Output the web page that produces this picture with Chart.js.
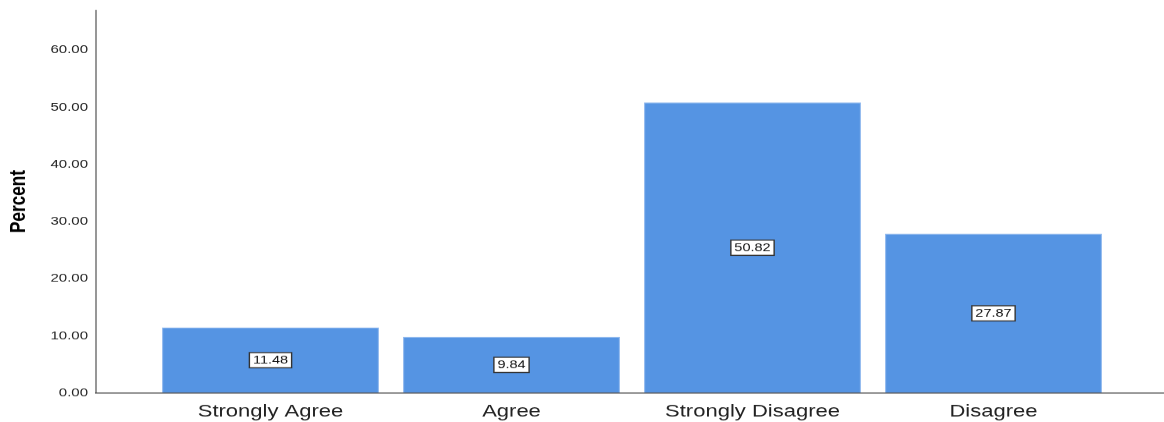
<!DOCTYPE html>
<html>
<head>
<meta charset="utf-8">
<script src="https://cdn.jsdelivr.net/npm/chart.js@4/dist/chart.umd.min.js"></script>
<style>
  html, body { margin: 0; padding: 0; background: #ffffff; }
  #wrap { width: 1164px; height: 422px; overflow: hidden; }
</style>
</head>
<body>
<div id="wrap"><canvas id="c" width="1164" height="541" style="display:block;width:1164px;height:422px"></canvas></div>
<script>
// ---- data ----
const categories = ['Strongly Agree', 'Agree', 'Strongly Disagree', 'Disagree'];
const percents = [11.48, 9.84, 50.82, 27.87];
const tickValues = [0, 10, 20, 30, 40, 50, 60];
const axisTitle = 'Percent';

// ---- layout (drawing-surface pixels; the surface is shown vertically compressed) ----
const AXIS_X = 96;          // x of the vertical axis line
const PLOT_LEFT = 150;      // start of the category band
const PLOT_RIGHT_PAD = 50;
const PLOT_TOP = 12.8;
const X_AXIS_H = 37.2;
const BAR_COLOR = 'rgb(85,148,227)';
const FONT = '"Liberation Sans", Arial, Helvetica, sans-serif';

// axis lines: vertical one stops at the plot top, horizontal one runs to the right edge
const axisLines = {
  id: 'axisLines',
  afterDatasetsDraw(chart) {
    const { ctx, chartArea, width } = chart;
    ctx.save();
    ctx.strokeStyle = '#8c8c8c';
    ctx.lineWidth = 1.8;
    ctx.beginPath();
    ctx.moveTo(AXIS_X, chartArea.top);
    ctx.lineTo(AXIS_X, chartArea.bottom);
    ctx.stroke();
    ctx.strokeStyle = '#3a3a3a';
    ctx.lineWidth = 1.3;
    ctx.beginPath();
    ctx.moveTo(AXIS_X - 1, chartArea.bottom);
    ctx.lineTo(width, chartArea.bottom);
    ctx.stroke();
    ctx.restore();
  }
};

// boxed value labels in the middle of each bar
const boxLabels = {
  id: 'boxLabels',
  afterDatasetsDraw(chart) {
    const { ctx } = chart;
    const meta = chart.getDatasetMeta(0);
    const yScale = chart.scales.y;
    ctx.save();
    ctx.font = '14.5px ' + FONT;
    ctx.textAlign = 'center';
    ctx.textBaseline = 'middle';
    meta.data.forEach((bar, i) => {
      const v = percents[i];
      const text = v.toFixed(2);
      const cx = bar.x;
      const cy = yScale.getPixelForValue(v / 2);
      const w = ctx.measureText(text).width + 7;
      const h = 19.5;
      ctx.fillStyle = '#ffffff';
      ctx.fillRect(cx - w / 2, cy - h / 2, w, h);
      ctx.strokeStyle = '#333333';
      ctx.lineWidth = 1.4;
      ctx.strokeRect(cx - w / 2, cy - h / 2, w, h);
      ctx.fillStyle = '#111111';
      ctx.fillText(text, cx, cy + 0.5);
    });
    ctx.restore();
  }
};

new Chart(document.getElementById('c'), {
  type: 'bar',
  data: {
    labels: categories,
    datasets: [{
      data: percents,
      backgroundColor: BAR_COLOR,
      borderColor: 'rgb(140,182,238)',
      borderWidth: 1,
      barPercentage: 0.9,
      categoryPercentage: 1.0
    }]
  },
  options: {
    responsive: false,
    animation: false,
    devicePixelRatio: 1,
    layout: { padding: { top: PLOT_TOP, right: PLOT_RIGHT_PAD, left: 0, bottom: 0 } },
    plugins: {
      legend: { display: false },
      tooltip: { enabled: false }
    },
    scales: {
      x: {
        type: 'category',
        offset: true,
        grid: { display: false, drawTicks: false },
        border: { display: false },
        ticks: {
          color: '#222222',
          font: { family: FONT, size: 22 },
          padding: 10.5,
          maxRotation: 0,
          autoSkip: false
        },
        afterFit(scale) {
          scale.height = X_AXIS_H;
          scale.paddingLeft = 0;
          scale.paddingRight = 0;
        }
      },
      y: {
        min: 0,
        max: 67,
        grid: { display: false, drawTicks: false },
        border: { display: false },
        afterBuildTicks(scale) {
          scale.ticks = tickValues.map(v => ({ value: v }));
        },
        ticks: {
          color: '#222222',
          font: { family: FONT, size: 15 },
          padding: PLOT_LEFT - 88,
          callback: v => Number(v).toFixed(2)
        },
        title: {
          display: true,
          text: axisTitle,
          color: '#000000',
          font: { family: FONT, size: 22, weight: 'bold' },
          padding: { top: 6, bottom: 0 }
        },
        afterFit(scale) {
          scale.width = PLOT_LEFT;
          scale.paddingTop = 0;
          scale.paddingBottom = 0;
        }
      }
    }
  },
  plugins: [axisLines, boxLabels]
});
</script>
</body>
</html>
